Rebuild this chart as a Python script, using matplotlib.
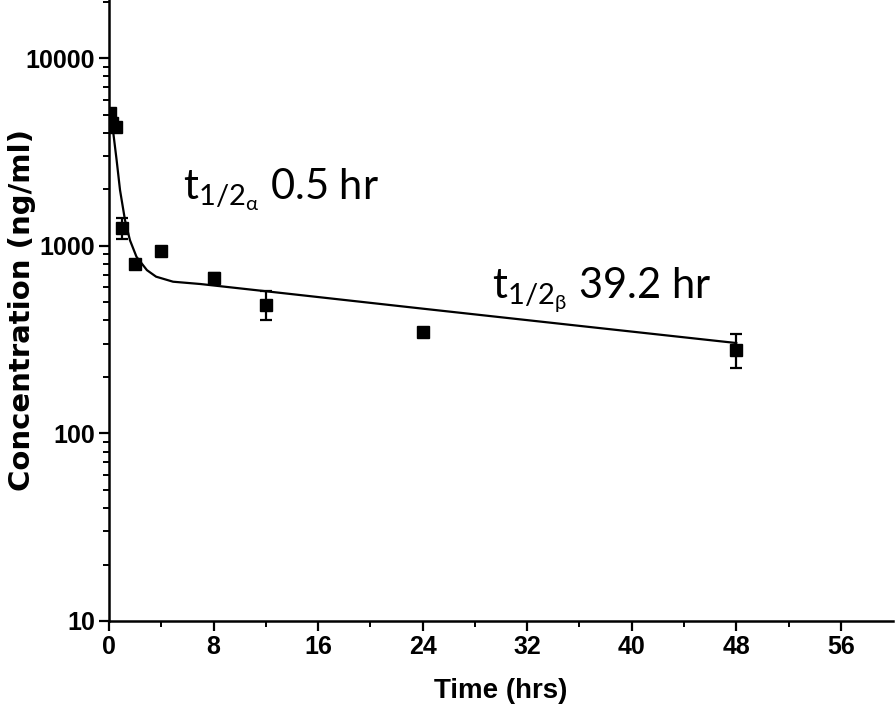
import matplotlib
matplotlib.use("Agg")
import matplotlib.pyplot as plt
from matplotlib.ticker import FixedLocator, LogLocator, NullFormatter

# measured concentrations (mean, sd)
time_h = [0.083, 0.25, 0.5, 1, 2, 4, 8, 12, 24, 48]
conc = [5100, 4500, 4300, 1240, 800, 940, 675, 485, 345, 278]
err_lo = [0, 0, 0, 160, 0, 0, 40, 85, 0, 56]
err_hi = [0, 0, 0, 160, 0, 0, 40, 90, 0, 62]

# fitted two-compartment curve
fit_t = [0.1, 0.3, 0.58, 0.84, 1.22, 1.6, 2.1, 2.9, 3.6, 4.9, 7.0, 12, 24, 36, 48]
fit_c = [4700, 4130, 2860, 1980, 1370, 1070, 873, 741, 684, 643, 625, 572, 462, 374, 303]

x_ticks = [0, 8, 16, 24, 32, 40, 48, 56]
y_ticks = [10, 100, 1000, 10000]

tick_font = {"family": "Liberation Sans", "weight": "bold", "size": 18}
plt.rcParams["mathtext.fontset"] = "custom"
plt.rcParams["mathtext.rm"] = "Lato"
plt.rcParams["mathtext.it"] = "Lato"

fig = plt.figure(figsize=(8.96, 7.11), dpi=100)
ax = fig.add_axes([0.1217, 0.1266, 0.875, 0.8734])

ax.plot(fit_t, fit_c, color="black", lw=1.6, zorder=2)
ax.errorbar(time_h, conc, yerr=[err_lo, err_hi], fmt="s", color="black",
            ms=9, capsize=4.5, elinewidth=1.6, capthick=1.6, zorder=3)

ax.set_yscale("log")
ax.set_xlim(0, 60)
ax.set_ylim(10, 20400)

ax.xaxis.set_major_locator(FixedLocator(x_ticks))
ax.xaxis.set_minor_locator(FixedLocator([4, 12, 20, 28, 36, 44, 52]))
ax.yaxis.set_major_locator(FixedLocator(y_ticks))
ax.yaxis.set_minor_locator(LogLocator(base=10, subs=range(2, 10)))
ax.yaxis.set_minor_formatter(NullFormatter())
ax.set_xticklabels([str(v) for v in x_ticks], fontdict=tick_font)
ax.set_yticklabels([str(v) for v in y_ticks], fontdict=tick_font)

ax.tick_params(which="major", direction="out", length=7, width=1.6, pad=3)
ax.tick_params(which="minor", direction="out", length=4, width=1.4)

for side in ["top", "right"]:
    ax.spines[side].set_visible(False)
for side in ["left", "bottom"]:
    ax.spines[side].set_linewidth(1.8)

ax.set_xlabel("Time (hrs)", fontdict={"family": "Liberation Sans",
                                      "weight": "bold", "size": 20}, labelpad=14)
ax.set_ylabel("Concentration (ng/ml)", fontdict={"family": "DejaVu Sans",
                                                 "weight": "bold", "size": 21})
ax.yaxis.set_label_coords(-0.093, 0.5)

ax.text(5.66, 1750, r"t$_{1/2_{\alpha}}$ 0.5 hr", fontsize=30, family="Lato")
ax.text(29.3, 526, r"t$_{1/2_{\beta}}$ 39.2 hr", fontsize=30, family="Lato")

fig.savefig("out.png", dpi=100)
